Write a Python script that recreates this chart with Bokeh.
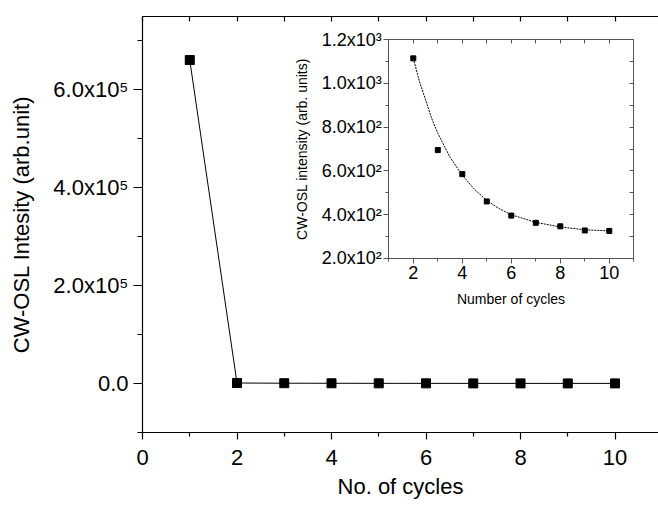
from bokeh.plotting import figure
from bokeh.models import Range1d, LinearAxis, FixedTicker
from bokeh.embed import file_html
from bokeh.resources import INLINE

# CW-OSL intensity against the number of cycles
cycles = [1, 2, 3, 4, 5, 6, 7, 8, 9, 10]
intensity = [661000, 1115, 695, 585, 460, 395, 362, 346, 327, 325]

# inset: cycles 2-10 on their own scale
inset_cycles = [2, 3, 4, 5, 6, 7, 8, 9, 10]
inset_intensity = [1115, 695, 585, 460, 395, 362, 346, 327, 325]

# decay fit drawn through the inset points
fit_cycles = [2, 2.25, 2.5, 2.75, 3, 3.5, 4, 4.5, 5, 5.5, 6, 7, 8, 9, 10]
fit_intensity = [1115, 1010, 925, 840, 772, 662, 580, 515, 464, 427, 399, 364, 343, 330, 325]

main_yticks = [0, 200000, 400000, 600000]
main_ylabels = ["0.0", "2.0x10\u2075", "4.0x10\u2075", "6.0x10\u2075"]
inset_yticks = [200, 400, 600, 800, 1000, 1200]
inset_ylabels = ["2.0x10\u00b2", "4.0x10\u00b2", "6.0x10\u00b2", "8.0x10\u00b2",
                 "1.0x10\u00b3", "1.2x10\u00b3"]

FONT = "Liberation Sans"
W, H = 658, 506
FL, FR, FT, FB = 142, 658, 16, 432          # main frame edges (px)
IL, IR, IT, IB = 388.3, 633.3, 39.3, 257.7  # inset frame edges (px)
IX0, IX1, IY0, IY1 = 1, 11, 200, 1200       # inset data limits

p = figure(width=W, height=H, output_backend="svg", toolbar_location=None,
           x_range=Range1d(0, 10.92), y_range=Range1d(-100000, 750000),
           x_axis_location=None, y_axis_location=None,
           min_border_left=FL, min_border_right=W - FR,
           min_border_top=FT, min_border_bottom=H - FB)
p.outline_line_color = None
p.grid.visible = False
p.background_fill_color = "white"
p.border_fill_color = "white"

def style_axis(ax, color="black", font_size="22px", lw=1.2):
    ax.axis_line_color = color
    ax.major_tick_line_color = color
    ax.minor_tick_line_color = color
    ax.axis_line_width = lw
    ax.major_tick_line_width = lw
    ax.minor_tick_line_width = lw
    ax.major_label_text_font = FONT
    ax.major_label_text_font_size = font_size
    ax.major_label_text_color = "black"
    ax.axis_label_text_font = FONT
    ax.axis_label_text_font_style = "normal"
    ax.axis_label_text_color = "black"

def frame_edge(ax, tick_len):
    # plain border with inward ticks only (minor ticks, so no labels are made)
    ax.major_tick_in = 0
    ax.major_tick_out = 0
    ax.minor_tick_in = tick_len
    ax.minor_tick_out = 0
    ax.major_label_standoff = 0

# main axes
xax = LinearAxis(ticker=FixedTicker(ticks=[0, 2, 4, 6, 8, 10], minor_ticks=[1, 3, 5, 7, 9]),
                 axis_label="No. of cycles")
style_axis(xax)
xax.axis_label_text_font_size = "22px"
xax.major_tick_out = 7
xax.major_tick_in = 0
xax.minor_tick_out = 4
xax.minor_tick_in = 0
xax.major_label_standoff = 10
xax.axis_label_standoff = 6
p.add_layout(xax, "below")

yax = LinearAxis(ticker=FixedTicker(ticks=main_yticks, minor_ticks=[-100000, 100000, 300000, 500000, 700000]),
                 axis_label="CW-OSL Intesity (arb.unit)",
                 major_label_overrides=dict(zip(main_yticks, main_ylabels)))
style_axis(yax)
yax.axis_label_text_font_size = "22px"
yax.major_tick_out = 9
yax.major_tick_in = 0
yax.minor_tick_out = 5
yax.minor_tick_in = 0
yax.major_label_standoff = 5
yax.axis_label_standoff = 16
p.add_layout(yax, "left")

top = LinearAxis(ticker=FixedTicker(ticks=[], minor_ticks=list(range(0, 11))))
style_axis(top)
frame_edge(top, 5)
p.add_layout(top, "above")

# main series
p.line(cycles, intensity, line_color="black", line_width=1)
p.scatter(cycles, intensity, marker="square", size=9, fill_color="black", line_color="black")

# inset ranges: placed so the inset box lands at its pixel rectangle inside the frame
sx = (IX1 - IX0) / (IR - IL)
sy = (IY1 - IY0) / (IB - IT)
p.extra_x_ranges = {"inset": Range1d(IX0 - (IL - FL) * sx, IX1 + (FR - IR) * sx)}
p.extra_y_ranges = {"inset": Range1d(IY0 - (FB - IB) * sy, IY1 + (IT - FT) * sy)}

GREY = "#555555"
ibx = LinearAxis(x_range_name="inset", y_range_name="inset", fixed_location=IY0,
                 bounds=(IX0, IX1),
                 ticker=FixedTicker(ticks=[2, 4, 6, 8, 10], minor_ticks=[1, 3, 5, 7, 9, 11]),
                 axis_label="Number of cycles")
style_axis(ibx, color=GREY, font_size="18px", lw=1)
ibx.axis_label_text_font_size = "14px"
ibx.major_tick_out = 5
ibx.major_tick_in = 0
ibx.minor_tick_out = 3
ibx.minor_tick_in = 0
ibx.major_label_standoff = 3
ibx.axis_label_standoff = 8
p.add_layout(ibx, "below")

ily = LinearAxis(x_range_name="inset", y_range_name="inset", fixed_location=IX0,
                 bounds=(IY0, IY1),
                 ticker=FixedTicker(ticks=inset_yticks, minor_ticks=[300, 500, 700, 900, 1100]),
                 axis_label="CW-OSL intensity (arb. units)",
                 major_label_overrides=dict(zip(inset_yticks, inset_ylabels)))
style_axis(ily, color=GREY, font_size="18px", lw=1)
ily.axis_label_text_font_size = "14px"
ily.major_tick_out = 5
ily.major_tick_in = 0
ily.minor_tick_out = 3
ily.minor_tick_in = 0
ily.major_label_standoff = 2
ily.axis_label_standoff = 8
p.add_layout(ily, "left")

itx = LinearAxis(x_range_name="inset", y_range_name="inset", fixed_location=IY1,
                 bounds=(IX0, IX1),
                 ticker=FixedTicker(ticks=[], minor_ticks=list(range(1, 12))))
style_axis(itx, color=GREY, lw=1)
frame_edge(itx, 4)
p.add_layout(itx, "above")

iry = LinearAxis(x_range_name="inset", y_range_name="inset", fixed_location=IX1,
                 bounds=(IY0, IY1),
                 ticker=FixedTicker(ticks=[], minor_ticks=list(range(200, 1201, 100))))
style_axis(iry, color=GREY, lw=1)
frame_edge(iry, 4)
p.add_layout(iry, "right")

p.line(fit_cycles, fit_intensity, x_range_name="inset", y_range_name="inset",
       line_color="black", line_width=1, line_dash="2 1")
p.scatter(inset_cycles, inset_intensity, x_range_name="inset", y_range_name="inset",
          marker="square", size=5, fill_color="black", line_color="black")

open("out.html", "w").write(file_html(p, INLINE))
